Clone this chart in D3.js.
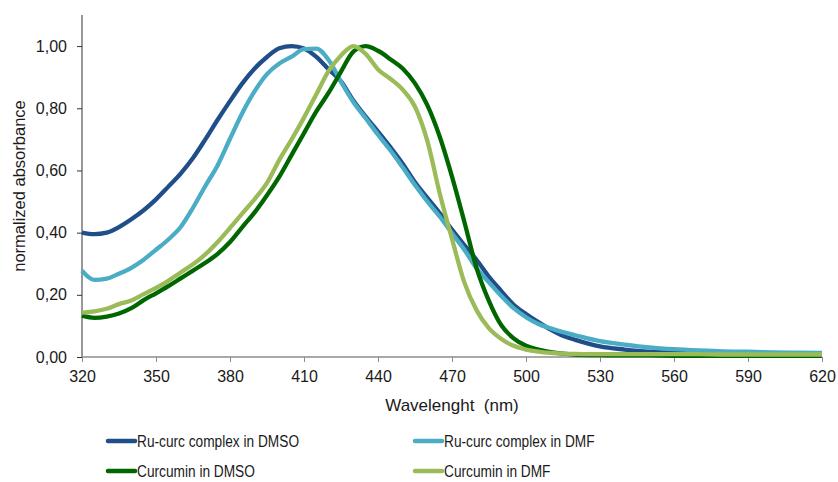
<!DOCTYPE html>
<meta charset="utf-8">
<style>
body { margin: 0; background: #fff; }
text { font-family: "Liberation Sans", Arial, sans-serif; fill: #1a1a1a; }
.series { fill: none; stroke-width: 4.3; stroke-linejoin: round; }
</style>
<body>
<svg id="chart" width="838" height="482"></svg>
<script src="https://cdnjs.cloudflare.com/ajax/libs/d3/7.8.5/d3.min.js"></script>
<script>

// wavelengths (nm), shared by all four spectra
var wavelengths = [320, 325, 330, 335, 340, 345, 350, 355, 360, 365,
                   370, 375, 380, 385, 390, 395, 400, 405, 410, 415,
                   420, 425, 430, 435, 440, 445, 450, 455, 460, 465,
                   470, 475, 480, 485, 490, 495, 500, 505, 510, 515,
                   520, 530, 540, 550, 560, 570, 580, 590, 600, 610, 620];

// normalized absorbance
var ruDmso = [0.400, 0.395, 0.400, 0.418, 0.443, 0.472, 0.507, 0.548, 0.590, 0.640,
              0.700, 0.763, 0.823, 0.880, 0.928, 0.965, 0.993, 1.000, 0.992, 0.965,
              0.925, 0.887, 0.825, 0.773, 0.725, 0.675, 0.622, 0.562, 0.512, 0.463,
              0.410, 0.360, 0.312, 0.258, 0.212, 0.168, 0.138, 0.112, 0.088, 0.068,
              0.055, 0.034, 0.024, 0.017, 0.014, 0.012, 0.011, 0.010, 0.010, 0.009, 0.009];

var ruDmf = [0.278, 0.248, 0.252, 0.268, 0.287, 0.313, 0.345, 0.378, 0.418, 0.480,
             0.550, 0.617, 0.702, 0.785, 0.855, 0.910, 0.944, 0.966, 0.990, 0.992,
             0.955, 0.885, 0.820, 0.768, 0.715, 0.665, 0.610, 0.553, 0.500, 0.452,
             0.398, 0.345, 0.285, 0.240, 0.196, 0.157, 0.128, 0.106, 0.092, 0.080,
             0.070, 0.051, 0.040, 0.031, 0.025, 0.021, 0.018, 0.017, 0.015, 0.014, 0.013];

var curDmso = [0.133, 0.126, 0.130, 0.140, 0.157, 0.183, 0.205, 0.228, 0.253, 0.278,
               0.303, 0.332, 0.370, 0.418, 0.465, 0.520, 0.580, 0.650, 0.720, 0.790,
               0.850, 0.918, 0.982, 1.000, 0.985, 0.958, 0.928, 0.880, 0.810, 0.709,
               0.580, 0.435, 0.285, 0.180, 0.102, 0.060, 0.036, 0.024, 0.016, 0.011,
               0.008, 0.006, 0.005, 0.005, 0.004, 0.004, 0.004, 0.004, 0.004, 0.004, 0.004];

var curDmf = [0.143, 0.147, 0.155, 0.170, 0.182, 0.202, 0.222, 0.245, 0.272, 0.298,
              0.330, 0.370, 0.415, 0.462, 0.508, 0.560, 0.634, 0.700, 0.770, 0.845,
              0.920, 0.970, 1.000, 0.975, 0.925, 0.895, 0.860, 0.805, 0.695, 0.527,
              0.380, 0.240, 0.150, 0.092, 0.058, 0.036, 0.024, 0.017, 0.013, 0.011,
              0.010, 0.009, 0.009, 0.009, 0.009, 0.009, 0.008, 0.008, 0.008, 0.008, 0.008];

var seriesNames = ["Ru-curc complex in DMSO", "Ru-curc complex in DMF",
                   "Curcumin in DMSO", "Curcumin in DMF"];
var seriesColors = ["#1f4e89", "#4bacc6", "#006600", "#9bbb59"];
var seriesValues = [ruDmso, ruDmf, curDmso, curDmf];

var xTicks = [320, 350, 380, 410, 440, 470, 500, 530, 560, 590, 620];
var yTicks = [0, 0.2, 0.4, 0.6, 0.8, 1.0];

// plot box (note: "top" is taken by window.top, so use other names)
var plotLeft = 82, plotRight = 822, plotTop = 15, plotBottom = 357;

var svg = d3.select("#chart");

var x = d3.scaleLinear().domain([320, 620]).range([plotLeft, plotRight]);
var y = d3.scaleLinear().domain([0, 1.1]).range([plotBottom, plotTop]);

// comma as decimal mark
var fmt = d3.formatLocale({decimal: ",", thousands: ".", grouping: [3], currency: ["", ""]}).format(".2f");

// y axis (dark line)
var yAxis = svg.append("g")
   .attr("transform", "translate(" + plotLeft + ",0)")
   .call(d3.axisLeft(y).tickValues(yTicks).tickFormat(fmt).tickSize(5).tickPadding(10));
yAxis.select(".domain").attr("stroke", "#333").attr("d", "M0," + plotTop + "V" + plotBottom);
yAxis.selectAll(".tick line").attr("stroke", "#333");
yAxis.selectAll("text").style("font-size", "16px").attr("fill", "#1a1a1a");

// x axis (grey line)
var xAxis = svg.append("g")
   .attr("transform", "translate(0," + plotBottom + ")")
   .call(d3.axisBottom(x).tickValues(xTicks).tickSize(5).tickPadding(9));
xAxis.select(".domain").attr("stroke", "#8c8c8c").attr("stroke-width", 1.5).attr("d", "M" + plotLeft + ",0H" + plotRight);
xAxis.selectAll(".tick line").attr("stroke", "#8c8c8c");
xAxis.selectAll("text").style("font-size", "16px").attr("fill", "#1a1a1a");

// axis titles
svg.append("text")
   .attr("x", (plotLeft + plotRight) / 2)
   .attr("y", 411)
   .attr("text-anchor", "middle")
   .style("font-size", "17px")
   .style("white-space", "pre")
   .text("Wavelenght  (nm)");

svg.append("text")
   .attr("transform", "translate(25," + (plotTop + plotBottom) / 2 + ") rotate(-90)")
   .attr("text-anchor", "middle")
   .style("font-size", "16.5px")
   .text("normalized absorbance");

// spectra
var line = d3.line()
   .x(function(d) { return x(d[0]); })
   .y(function(d) { return y(d[1]); })
   .curve(d3.curveMonotoneX);

seriesValues.forEach(function(vals, i) {
  svg.append("path")
     .attr("class", "series")
     .attr("stroke", seriesColors[i])
     .attr("d", line(wavelengths.map(function(w, j) { return [w, vals[j]]; })));
});

// legend, two columns; text is a bit condensed in the original
var legendPos = [[108, 441], [415, 441], [108, 471], [415, 471]];
seriesNames.forEach(function(name, i) {
  var g = svg.append("g").attr("transform", "translate(" + legendPos[i][0] + "," + legendPos[i][1] + ")");
  g.append("line")
   .attr("x1", 0).attr("x2", 27)
   .attr("stroke", seriesColors[i])
   .attr("stroke-width", 4.5)
   .attr("stroke-linecap", "round");
  g.append("text")
   .attr("transform", "translate(29,0) scale(0.83,1)")
   .attr("dy", "0.35em")
   .style("font-size", "16.5px")
   .text(name);
});

</script>
</body>
